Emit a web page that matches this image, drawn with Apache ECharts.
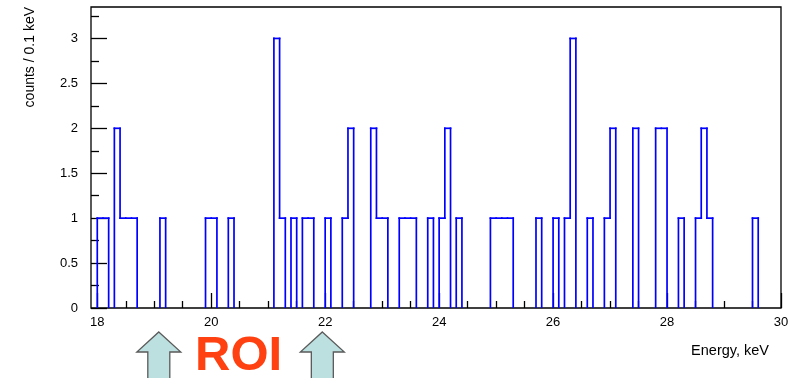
<!DOCTYPE html>
<html><head><meta charset="utf-8">
<script src="https://cdn.jsdelivr.net/npm/echarts@6/dist/echarts.min.js"></script>
<style>html,body{margin:0;padding:0;background:#fff}#c{width:800px;height:378px}</style>
</head><body><div id="c"></div>
<script>
// Histogram: counts per 0.1 keV bin, starting at 18.0 keV
const binStart = 18.0;
const binWidth = 0.1;
const counts = [
  1,1,0,2,1,1,1,0,0,0,
  0,1,0,0,0,0,0,0,0,1,
  1,0,0,1,0,0,0,0,0,0,
  0,3,1,0,1,0,1,1,0,0,
  1,0,0,1,2,0,0,0,2,1,
  1,0,0,1,1,1,0,0,1,0,
  1,2,0,1,0,0,0,0,0,1,
  1,1,1,0,0,0,0,1,0,0,
  1,0,1,3,0,0,1,0,0,1,
  2,0,0,0,2,0,0,0,2,2,
  0,0,1,0,0,1,2,1,0,0,
  0,0,0,0,0,1,0,0,0,0
];
const xMajorTicks = [18, 20, 22, 24, 26, 28, 30];
const xMinorTicks = [18.5, 19, 19.5, 20.5, 21, 21.5, 22.5, 23, 23.5, 24.5, 25, 25.5, 26.5, 27, 27.5, 28.5, 29, 29.5];
const yMajorTicks = [0, 0.5, 1, 1.5, 2, 2.5, 3];
const yMinorTicks = [0.25, 0.75, 1.25, 1.75, 2.25, 2.75, 3.25];
const roiBounds = [19.08, 21.95];
const xTitle = 'Energy, keV';
const yTitle = 'counts / 0.1 keV';
const roiText = 'ROI';

const FONT = '"Liberation Sans", Arial, sans-serif';
const chart = echarts.init(document.getElementById('c'), null, {renderer: 'canvas'});

// build per-bin items: [xStart, xEnd, count, previousCount]; one extra closing edge
const items = [];
for (let i = 0; i <= counts.length; i++) {
  const c = i < counts.length ? counts[i] : 0;
  const p = i > 0 ? counts[i - 1] : 0;
  const x0 = +(binStart + i * binWidth).toFixed(3);
  items.push([x0, +(x0 + binWidth).toFixed(3), c, p]);
}

const XMIN = 17.89, XMAX = 30, YMIN = 0, YMAX = 3.35;
const stroke = '#0000ff';

function renderItem(params, api) {
  const x0 = api.value(0), x1 = api.value(1), c = api.value(2), p = api.value(3);
  const a = api.coord([x0, c]);
  const b = api.coord([Math.min(x1, XMAX), c]);
  const pp = api.coord([x0, p]);
  const children = [];
  const st = {stroke: stroke, lineWidth: 1.7, lineCap: 'square', fill: null};
  if (c !== p) children.push({type: 'line', shape: {x1: a[0], y1: pp[1], x2: a[0], y2: a[1]}, style: st});
  if (c > 0 && x0 < XMAX) children.push({type: 'line', shape: {x1: a[0], y1: a[1], x2: b[0], y2: b[1]}, style: st});
  return {type: 'group', children: children};
}

const axisLabelStyle = {color: '#000', fontFamily: FONT, fontSize: 13};

chart.setOption({
  animation: false,
  grid: {left: 91, right: 19, top: 7, bottom: 70, show: true, borderColor: '#000', borderWidth: 1.3, backgroundColor: 'transparent'},
  xAxis: [
    {type: 'value', min: XMIN, max: XMAX, position: 'bottom',
     axisLine: {show: false}, splitLine: {show: false},
     axisTick: {show: true, inside: true, length: 15, customValues: xMajorTicks, lineStyle: {color: '#000', width: 1.3}},
     axisLabel: Object.assign({customValues: xMajorTicks, margin: 8, formatter: v => String(v)}, axisLabelStyle)},
    {type: 'value', min: XMIN, max: XMAX, position: 'bottom',
     axisLine: {show: false}, splitLine: {show: false},
     axisTick: {show: true, inside: true, length: 7, customValues: xMinorTicks, lineStyle: {color: '#000', width: 1.3}},
     axisLabel: {show: false}}
  ],
  yAxis: [
    {type: 'value', min: YMIN, max: YMAX, position: 'left',
     axisLine: {show: false}, splitLine: {show: false},
     axisTick: {show: true, inside: true, length: 16, customValues: yMajorTicks, lineStyle: {color: '#000', width: 1.3}},
     axisLabel: Object.assign({customValues: yMajorTicks, margin: 13, formatter: v => String(v)}, axisLabelStyle)},
    {type: 'value', min: YMIN, max: YMAX, position: 'left',
     axisLine: {show: false}, splitLine: {show: false},
     axisTick: {show: true, inside: true, length: 8, customValues: yMinorTicks, lineStyle: {color: '#000', width: 1.3}},
     axisLabel: {show: false}}
  ],
  series: [{
    type: 'custom', renderItem: renderItem, data: items, clip: true,
    xAxisIndex: 0, yAxisIndex: 0,
    encode: {x: [0, 1], y: [2, 3]}
  }]
});

function arrow(tipX, tipY) {
  const hw = 22, hh = 20, sw = 11, bottom = 382;
  return {
    type: 'polygon',
    shape: {points: [[tipX, tipY], [tipX + hw, tipY + hh], [tipX + sw, tipY + hh], [tipX + sw, bottom],
                     [tipX - sw, bottom], [tipX - sw, tipY + hh], [tipX - hw, tipY + hh]]},
    style: {fill: '#bcdfdf', stroke: '#5a5a5a', lineWidth: 1.3},
    z: 10
  };
}

const ax1 = chart.convertToPixel({xAxisIndex: 0}, roiBounds[0]);
const ax2 = chart.convertToPixel({xAxisIndex: 0}, roiBounds[1]);
const roiMid = chart.convertToPixel({xAxisIndex: 0}, (roiBounds[0] + roiBounds[1]) / 2);

chart.setOption({
  graphic: [
    {type: 'text', x: 30, y: 7, rotation: Math.PI / 2,
     style: {text: yTitle, fill: '#000', font: '14px ' + FONT, align: 'right', verticalAlign: 'middle'}},
    {type: 'text', x: 769, y: 351,
     style: {text: xTitle, fill: '#000', font: '14.5px ' + FONT, align: 'right', verticalAlign: 'middle'}},
    arrow(ax1, 332),
    arrow(ax2, 332),
    {type: 'text', x: roiMid - 2, y: 356,
     style: {text: roiText, fill: '#ff4010', font: 'bold 49px ' + FONT, align: 'center', verticalAlign: 'middle'}, z: 10}
  ]
});
</script></body></html>
